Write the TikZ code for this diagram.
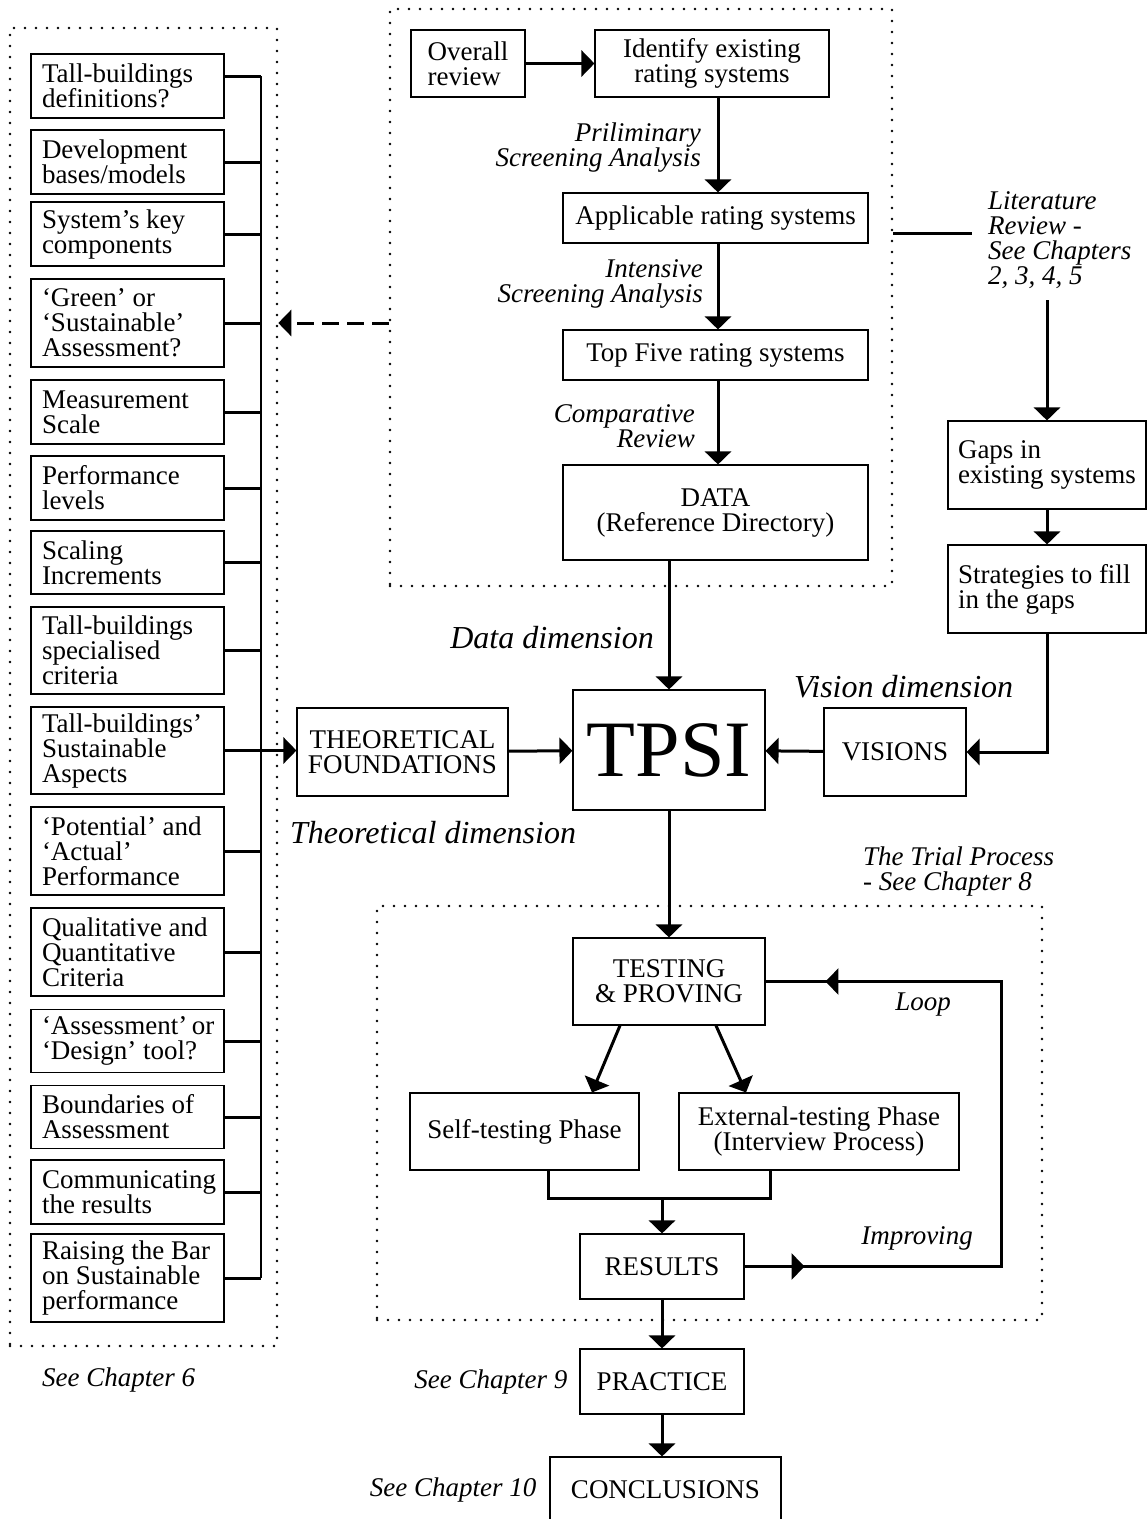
\documentclass[tikz,border=0pt]{standalone}
\usepackage{fontspec}
\setmainfont{Liberation Serif}
\usetikzlibrary{arrows.meta,decorations.markings}

\newcommand\boxfnt{\fontsize{27}{25}\selectfont\lineskiplimit=-30pt\hyphenpenalty=10000\relax}
\newcommand\labfnt{\fontsize{27}{25}\selectfont\itshape\lineskiplimit=-30pt\relax}
\newcommand\dimfnt{\fontsize{32}{32}\selectfont\itshape}
\newcommand\tpsifnt{\fontsize{80}{80}\selectfont}

\begin{document}
\begin{tikzpicture}[x=1pt,y=-1pt,
  box/.style={draw, line width=1.1pt, inner sep=0pt, font=\boxfnt, align=center},
  lbox/.style={draw, line width=1.1pt, inner ysep=0pt, inner xsep=11pt,
               text width=171pt, align=flush left, font=\boxfnt},
  rbox/.style={draw, line width=1.1pt, inner ysep=0pt, inner xsep=10pt,
               text width=178pt, align=flush left, font=\boxfnt},
  grp/.style={draw, line width=2.6pt, dash pattern=on 0pt off 11pt,
              line cap=round, inner sep=0pt},
  lab/.style={font=\labfnt, inner sep=0pt},
  dimlab/.style={font=\dimfnt, inner sep=0pt},
  wire/.style={line width=3pt},
  bus/.style={line width=2pt},
  tip/.style={-{Triangle[width=26pt,length=13pt]}},
  conn/.style={line width=3pt, tip},
  dashconn/.style={line width=3pt, dash pattern=on 17pt off 8pt, tip},
]
\useasboundingbox (0,0) rectangle (1147,1519);
\fill[white] (0,0) rectangle (1147,1519);
\clip (0,0) rectangle (1147,1519);

% ---------- dotted groups ----------
\node[grp, minimum width=267pt, minimum height=1318pt] (leftgrp) at (143.5,687) {};
\node[grp, minimum width=502pt, minimum height=577pt]  (topgrp)  at (641,297.5) {};
\node[grp, minimum width=665pt, minimum height=414pt]  (trialgrp) at (709.5,1113) {};

% ---------- chapter 6 topics ----------
\node[lbox, minimum height=64pt] (b1)  at (127.5,86)    {Tall-buildings\\definitions?};
\node[lbox, minimum height=64pt] (b2)  at (127.5,162)   {Development\\bases/models};
\node[lbox, minimum height=64pt] (b3)  at (127.5,234)   {System’s~key\\components};
\node[lbox, minimum height=88pt] (b4)  at (127.5,323)   {‘Green’~or\\‘Sustainable’\\Assessment?};
\node[lbox, minimum height=64pt] (b5)  at (127.5,412)   {Measurement\\Scale};
\node[lbox, minimum height=64pt] (b6)  at (127.5,488)   {Performance\\levels};
\node[lbox, minimum height=63pt] (b7)  at (127.5,562.5) {Scaling\\Increments};
\node[lbox, minimum height=87pt] (b8)  at (127.5,650.5) {Tall-buildings\\specialised\\criteria};
\node[lbox, minimum height=87pt] (b9)  at (127.5,750.5) {Tall-buildings’\\Sustainable\\Aspects};
\node[lbox, minimum height=88pt] (b10) at (127.5,851)   {‘Potential’~and\\‘Actual’\\Performance};
\node[lbox, minimum height=88pt] (b11) at (127.5,952)   {Qualitative~and\\Quantitative\\Criteria};
\node[lbox, minimum height=63pt] (b12) at (127.5,1041)  {‘Assessment’~or\\‘Design’~tool?};
\node[lbox, minimum height=63pt] (b13) at (127.5,1117)  {Boundaries~of\\Assessment};
\node[lbox, minimum height=64pt] (b14) at (127.5,1192)  {Communicating\\the~results};
\node[lbox, minimum height=88pt] (b15) at (127.5,1278)  {Raising~the~Bar\\on~Sustainable\\performance};
\node[lab, anchor=west] (ch6) at (42,1380) {See Chapter 6};

\coordinate (busx) at (261,0);
\coordinate (b1c) at ([yshift=10pt]b1.east);
\draw[bus] (b1c -| busx) -- (b15.east -| busx);
\draw[wire] (b1c) -- (b1c -| busx);
\foreach \i in {2,...,8,10,11,12,13,14,15}
  \draw[wire] (b\i.east) -- (b\i.east -| busx);

% ---------- literature review ----------
\node[box, minimum width=114pt, minimum height=67pt, align=left] (ov) at (468,63.5) {Overall\\review};
\node[box, minimum width=234pt, minimum height=67pt] (id)  at (712,63.5) {Identify existing\\rating systems};
\node[box, minimum width=305pt, minimum height=50pt] (app) at (715.5,218) {Applicable rating systems};
\node[box, minimum width=305pt, minimum height=50pt] (top5) at (715.5,355) {Top Five rating systems};
\node[box, minimum width=305pt, minimum height=95pt] (data) at (715.5,512.5) {DATA\\(Reference Directory)};

\node[lab, anchor=east, align=right] (prelim) at (701,147.5) {Priliminary\\Screening Analysis};
\node[lab, anchor=east, align=right] (inten)  at (703,284)   {Intensive\\Screening Analysis};
\node[lab, anchor=east, align=right] (compar) at (695,426)   {Comparative\\Review};

\coordinate (colx) at (718,0);
\draw[conn] (ov) -- (id);
\draw[conn] (id.south -| colx) -- (app.north -| colx);
\draw[conn] (app.south -| colx) -- (top5.north -| colx);
\draw[conn] (top5.south -| colx) -- (data.north -| colx);

\coordinate (dashy) at (0,323);
\draw[dashconn] (topgrp.west |- dashy) -- (leftgrp.east |- dashy);

\node[lab, anchor=west, align=left] (lit) at (988,240.5) {Literature\\Review -\\See Chapters\\2, 3, 4, 5};
\coordinate (lity) at (0,233);
\coordinate (litend) at (972,233);
\draw[wire] (topgrp.east |- lity) -- (litend);

\node[rbox, minimum height=88pt] (gaps)  at (1047,465) {Gaps~in\\existing~systems};
\node[rbox, minimum height=88pt] (strat) at (1047,589) {Strategies~to~fill\\in~the~gaps};
\coordinate (litb) at (1047,300);
\draw[conn] (litb) -- (gaps.north);
\draw[conn] (gaps) -- (strat);

% ---------- TPSI and its three dimensions ----------
\node[box, minimum width=211pt, minimum height=88pt] (tf)   at (402.5,752) {THEORETICAL\\FOUNDATIONS};
\node[box, minimum width=192pt, minimum height=120pt, font=\tpsifnt] (tpsi) at (669,750) {TPSI};
\node[box, minimum width=142pt, minimum height=88pt] (vis)  at (895,752) {VISIONS};

\node[dimlab, anchor=east] (ddim) at (654,638) {Data dimension};
\node[dimlab, anchor=west] (vdim) at (794,687) {Vision dimension};
\node[dimlab, anchor=west] (tdim) at (290,833) {Theoretical dimension};

\draw[conn] (data.south -| tpsi.north) -- (tpsi.north);
\draw[conn] (b9.east) -- (b9.east -| tf.west);
\draw[conn] (tf) -- (tpsi);
\draw[conn] (vis) -- (tpsi);
\draw[conn] (strat.south) -- (strat.south |- vis.east) -- (vis.east);

% ---------- trial process ----------
\node[lab, anchor=west, align=left] (trial) at (863,871) {The Trial Process\\- See Chapter 8};
\node[box, minimum width=192pt, minimum height=87pt] (tp)   at (669,981.5) {TESTING\\\&~PROVING};
\node[box, minimum width=229pt, minimum height=77pt] (self) at (524.5,1131.5) {Self-testing Phase};
\node[box, minimum width=280pt, minimum height=77pt] (ext)  at (819,1131.5) {External-testing Phase\\(Interview Process)};
\node[box, minimum width=164pt, minimum height=65pt] (res)  at (662,1266.5) {RESULTS};
\node[lab] (loop) at (923,1005) {Loop};
\node[lab] (impr) at (917,1238) {Improving};

\draw[conn] (tpsi.south) -- (tp.north);
\draw[conn] ([xshift=-49pt]tp.south) -- ([xshift=67.5pt]self.north);
\draw[conn] ([xshift=47pt]tp.south) -- ([xshift=-73pt]ext.north);

\coordinate (jl) at (548,1198);
\coordinate (jr) at (770,1198);
\draw[wire] (self.south -| jl) -- (jl) -- (jr) -- (ext.south -| jr);
\draw[conn] (res.north |- jl) -- (res.north);

\coordinate (loopx) at (1001,0);
\draw[wire, postaction={decorate}, decoration={markings,
    mark=at position 60pt with {\arrow{Triangle[width=26pt,length=13pt]}},
    mark=at position 717pt with {\arrow{Triangle[width=26pt,length=13pt]}}}]
  (res.east) -- (res.east -| loopx) -- (tp.east -| loopx) -- (tp.east);

% ---------- practice and conclusions ----------
\node[box, minimum width=164pt, minimum height=65pt] (prac)  at (662,1381.5) {PRACTICE};
\node[box, minimum width=231pt, minimum height=66pt] (concl) at (665.5,1490) {CONCLUSIONS};
\node[lab, anchor=east] (ch9)  at ([xshift=-12pt]prac.west)  {See Chapter 9};
\node[lab, anchor=east] (ch10) at ([xshift=-13pt]concl.west) {See Chapter 10};

\draw[conn] (res) -- (prac);
\draw[conn] (prac.south) -- (prac.south |- concl.north);
\end{tikzpicture}
\end{document}
